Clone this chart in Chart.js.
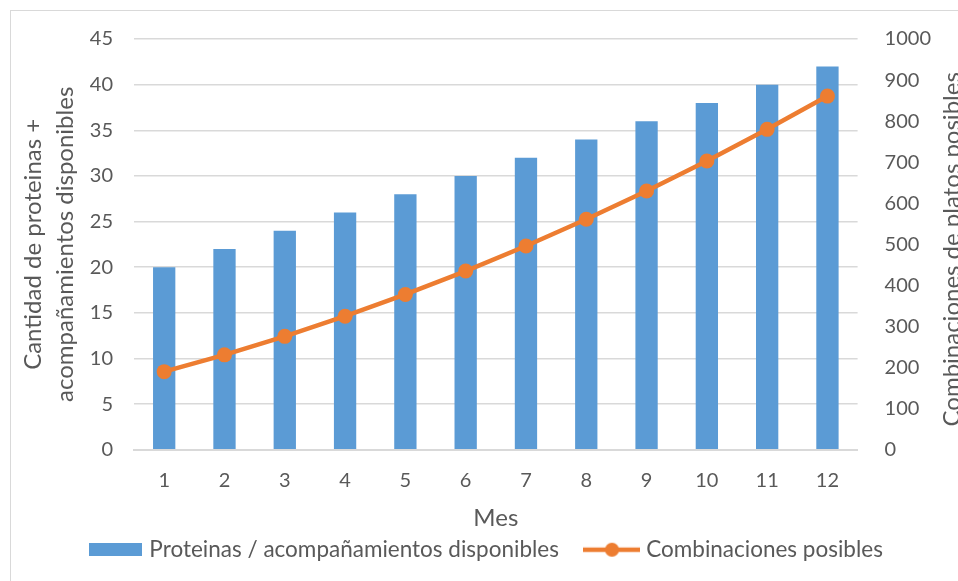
<!DOCTYPE html>
<html>
<head>
<meta charset="utf-8">
<script src="https://cdn.jsdelivr.net/npm/chart.js@4.4.1/dist/chart.umd.min.js"></script>
<style>
  html, body { margin: 0; padding: 0; background: #fff; overflow: hidden; }
  #wrap { position: relative; width: 980px; height: 581px; }
</style>
</head>
<body>
<div id="wrap"><canvas id="mesChart"></canvas></div>
<script>
const meses = ["1", "2", "3", "4", "5", "6", "7", "8", "9", "10", "11", "12"];
const disponibles = [20, 22, 24, 26, 28, 30, 32, 34, 36, 38, 40, 42];
const combinaciones = [190, 231, 276, 325, 378, 435, 496, 561, 630, 703, 780, 861];

const azul = "#5b9bd5";
const naranja = "#ed7d31";
const gris = "#595959";
const fuente = "Lato, 'DejaVu Sans', sans-serif";
const tituloDerecho = "Combinaciones de platos posibles";

// little images for the legend markers
function legendBar() {
    const c = document.createElement("canvas");
    c.width = 53; c.height = 13;
    const g = c.getContext("2d");
    g.fillStyle = azul;
    g.fillRect(0, 0, 53, 13);
    return c;
}
function legendLine() {
    const c = document.createElement("canvas");
    c.width = 57; c.height = 16;
    const g = c.getContext("2d");
    g.strokeStyle = naranja;
    g.lineWidth = 4.5;
    g.beginPath(); g.moveTo(0, 8); g.lineTo(57, 8); g.stroke();
    g.fillStyle = naranja;
    g.beginPath(); g.arc(28.5, 8, 7, 0, Math.PI * 2); g.fill();
    return c;
}

// white background, chart frame and the right axis title (reads bottom to top)
const marco = {
    id: "marco",
    beforeDraw(chart) {
        const ctx = chart.ctx;
        ctx.save();
        ctx.fillStyle = "#fff";
        ctx.fillRect(0, 0, chart.width, chart.height);
        ctx.strokeStyle = "#d9d9d9";
        ctx.lineWidth = 1;
        ctx.strokeRect(10.5, 10.5, chart.width, chart.height);
        ctx.restore();
    },
    afterDraw(chart) {
        const area = chart.chartArea;
        const ctx = chart.ctx;
        ctx.save();
        ctx.translate(952, (area.top + area.bottom) / 2 + 5);
        ctx.rotate(-Math.PI / 2);
        ctx.fillStyle = gris;
        ctx.font = "24px " + fuente;
        ctx.textAlign = "center";
        ctx.textBaseline = "middle";
        ctx.fillText(tituloDerecho, 0, 0);
        ctx.restore();
    }
};

const ctx = document.getElementById("mesChart").getContext("2d");
new Chart(ctx, {
    type: "bar",
    data: {
        labels: meses,
        datasets: [
            {
                type: "line",
                label: "Combinaciones posibles",
                data: combinaciones,
                yAxisID: "y1",
                borderColor: naranja,
                backgroundColor: naranja,
                borderWidth: 4.5,
                pointRadius: 7.5,
                pointHoverRadius: 7.5,
                pointBorderWidth: 0,
                tension: 0,
                order: 0
            },
            {
                label: "Proteinas / acompañamientos disponibles",
                data: disponibles,
                yAxisID: "y",
                backgroundColor: azul,
                barPercentage: 0.37,
                categoryPercentage: 1,
                order: 1
            }
        ]
    },
    options: {
        responsive: true,
        maintainAspectRatio: false,
        animation: false,
        layout: { padding: { left: 17, right: 22, top: 28, bottom: 10 } },
        plugins: {
            tooltip: { enabled: false },
            legend: {
                position: "bottom",
                labels: {
                    usePointStyle: true,
                    pointStyleWidth: 46,
                    color: gris,
                    font: { family: fuente, size: 22.5 },
                    padding: 30,
                    generateLabels: () => [
                        { text: "Proteinas / acompañamientos disponibles", pointStyle: legendBar(), fontColor: gris, datasetIndex: 1 },
                        { text: "Combinaciones posibles", pointStyle: legendLine(), fontColor: gris, datasetIndex: 0 }
                    ]
                }
            }
        },
        scales: {
            x: {
                grid: { display: false, drawTicks: false },
                border: { color: "#d9d9d9", width: 2 },
                ticks: { color: gris, font: { family: fuente, size: 20 }, padding: 19 },
                title: {
                    display: true,
                    text: "Mes",
                    color: gris,
                    font: { family: fuente, size: 24 },
                    padding: { top: -8, bottom: -24 }
                }
            },
            y: {
                position: "left",
                min: 0,
                max: 45,
                grid: { color: "#d9d9d9", lineWidth: 1.5, drawTicks: false },
                border: { display: false },
                ticks: { stepSize: 5, color: gris, font: { family: fuente, size: 20 }, padding: 21 },
                title: {
                    display: true,
                    text: ["Cantidad de proteinas +", "acompañamientos disponibles"],
                    color: gris,
                    font: { family: fuente, size: 24, lineHeight: 1.33 },
                    padding: { top: 0, bottom: -12 }
                }
            },
            y1: {
                position: "right",
                min: 0,
                max: 1000,
                grid: { display: false, drawTicks: false },
                border: { display: false },
                ticks: {
                    stepSize: 100,
                    color: gris,
                    font: { family: fuente, size: 20 },
                    padding: 27,
                    callback: (v) => String(v)
                }
            }
        }
    },
    plugins: [marco]
});
</script>
</body>
</html>
